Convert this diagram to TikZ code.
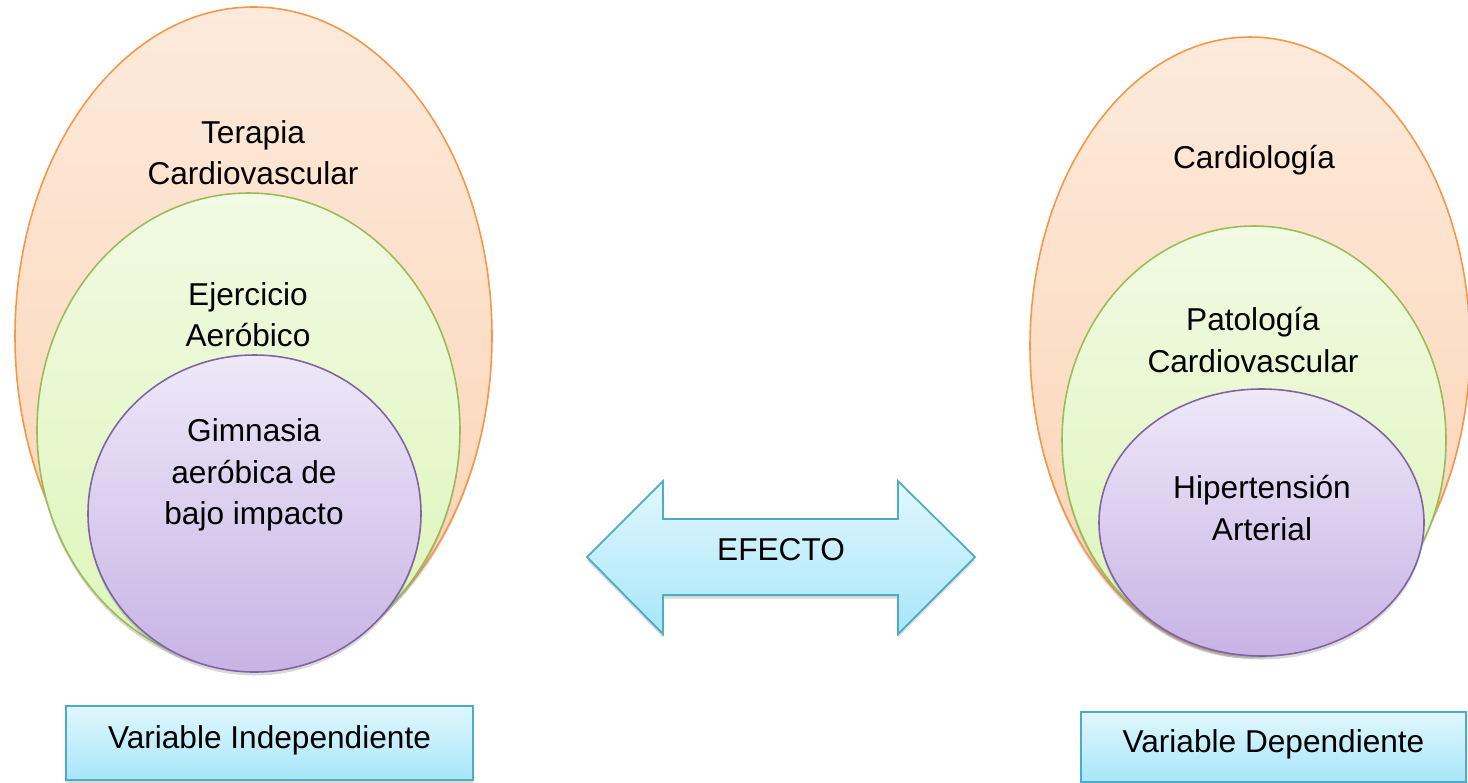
\documentclass[tikz,border=0pt]{standalone}
\usepackage{fontspec}
\setmainfont{Liberation Sans}
\usetikzlibrary{shadows}

\definecolor{naranjaBorde}{HTML}{F79646}
\definecolor{naranjaA}{HTML}{FDEADB}
\definecolor{naranjaB}{HTML}{FBD3B3}
\definecolor{verdeBorde}{HTML}{9BBB59}
\definecolor{verdeA}{HTML}{F1FAE3}
\definecolor{verdeB}{HTML}{DDF5B8}
\definecolor{moradoBorde}{HTML}{8064A2}
\definecolor{moradoA}{HTML}{EEE8F8}
\definecolor{moradoB}{HTML}{C7B3E5}
\definecolor{azulBorde}{HTML}{4BACC6}
\definecolor{azulA}{HTML}{E1F7FD}
\definecolor{azulB}{HTML}{A7E6FA}

\begin{document}
\begin{tikzpicture}[x=0.02cm,y=-0.02cm]
	 \tikzstyle{sombra}=[drop shadow={shadow xshift=0pt,shadow yshift=-2pt,opacity=0.3}]
	 \tikzstyle{campo}=[draw=naranjaBorde,line width=0.9pt,top color=naranjaA,bottom color=naranjaB,sombra]
	 \tikzstyle{area}=[draw=verdeBorde,line width=0.9pt,top color=verdeA,bottom color=verdeB,sombra]
	 \tikzstyle{tema}=[draw=moradoBorde,line width=0.9pt,top color=moradoA,bottom color=moradoB,sombra]
	 \tikzstyle{texto}=[align=center,font=\fontsize{18}{23.5}\selectfont]
	 \tikzstyle{caja}=[draw=azulBorde,line width=1pt,top color=azulA,bottom color=azulB,sombra,
	   font=\fontsize{18}{22}\selectfont,text depth=7pt]

	 \useasboundingbox (0,0) rectangle (1468,782);

	 % variable independiente
	 \path[campo] (253.5,336) ellipse [x radius=238.5,y radius=329];
	 \path[area] (248.5,430) ellipse [x radius=211.5,y radius=237];
	 \path[tema] (254.5,513.5) ellipse [x radius=166.5,y radius=158.5];
	 \node[texto] (terapia) at (253,153) {Terapia\\Cardiovascular};
	 \node[texto] (ejercicio) at (248,315) {Ejercicio\\Aeróbico};
	 \node[texto] (gimnasia) at (254,475) {Gimnasia\\aeróbica de\\bajo impacto};

	 % variable dependiente
	 \path[campo] (1250,346) ellipse [x radius=220,y radius=309];
	 \path[area] (1254,440) ellipse [x radius=192,y radius=214];
	 \path[tema] (1261.5,522.5) ellipse [x radius=162.5,y radius=133.5];
	 \node[texto] (cardiologia) at (1254,160) {Cardiología};
	 \node[texto] (patologia) at (1253,340) {Patología\\Cardiovascular};
	 \node[texto] (hipertension) at (1262,508) {Hipertensión\\Arterial};

	 % flecha
	 \path[draw=azulBorde,line width=1pt,top color=azulA,bottom color=azulB,sombra]
	   (587,557) -- (663,481) -- (663,519) -- (898,519) -- (898,481) -- (975,557)
	   -- (898,634) -- (898,595) -- (663,595) -- (663,634) -- cycle;
	 \node[texto] (efecto) at (781,550) {EFECTO};

	 \node[caja,minimum width=8.14cm,minimum height=1.48cm] (independiente) at (269.5,743) {Variable Independiente};
	 \node[caja,minimum width=7.7cm,minimum height=1.4cm] (dependiente) at (1273.5,747) {Variable Dependiente};

\end{tikzpicture}
\end{document}
